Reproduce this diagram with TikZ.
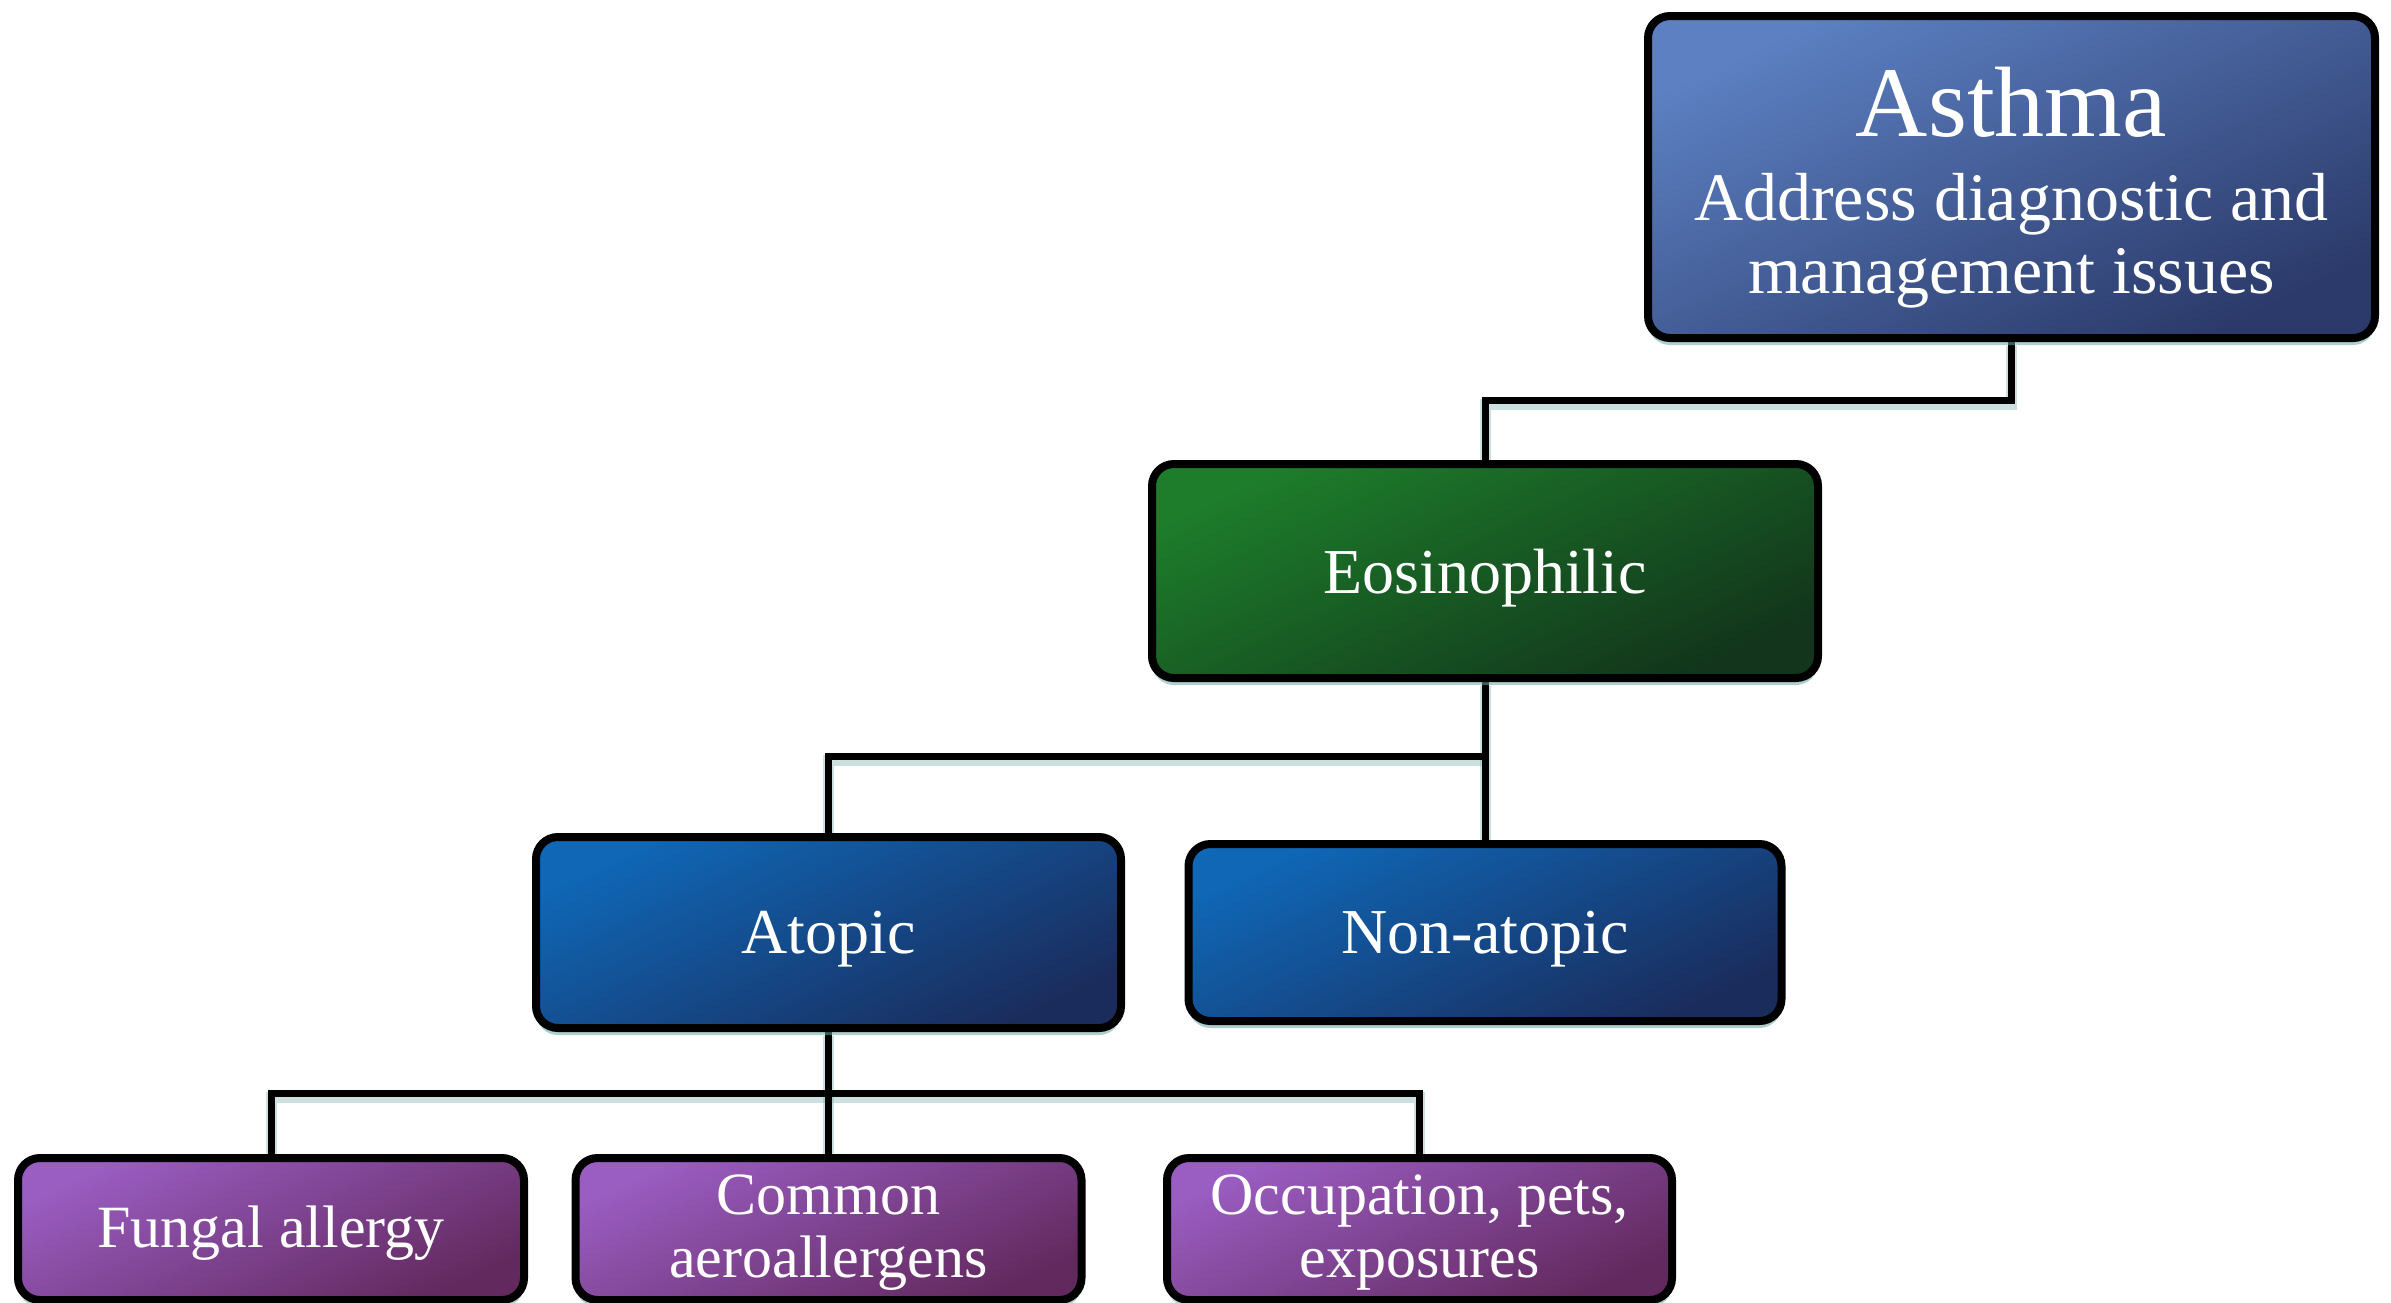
\documentclass[tikz,border=0pt]{standalone}
\usepackage{fontspec}
\setmainfont{Liberation Serif}
\usetikzlibrary{shadows,calc}
\pgfdeclarelayer{bg}
\pgfsetlayers{bg,main}
\definecolor{asthmaA}{HTML}{5C80C2}
\definecolor{asthmaB}{HTML}{2B3A6A}
\definecolor{eosA}{HTML}{1D7D2B}
\definecolor{eosB}{HTML}{12351B}
\definecolor{atA}{HTML}{0F67B6}
\definecolor{atB}{HTML}{1A2C5C}
\definecolor{purA}{HTML}{9A5DC2}
\definecolor{purB}{HTML}{62295E}
\definecolor{shadowteal}{HTML}{6FA8A8}
\newcommand{\dn}[2]{\raisebox{-#1}[\height][\depth]{#2}}
\begin{document}
\begin{tikzpicture}[x=1pt,y=1pt,
  box/.style={draw=black, line width=8pt, rounded corners=22pt, text=white, align=center, inner sep=0pt,
    drop shadow={shadow xshift=0pt, shadow yshift=-7pt, fill=shadowteal, opacity=0.55}},
  asthmabox/.style={box, top color=asthmaA, bottom color=asthmaB, shading angle=25},
  eosbox/.style={box, top color=eosA, bottom color=eosB, shading angle=25},
  atbox/.style={box, top color=atA, bottom color=atB, shading angle=25},
  purbox/.style={box, top color=purA, bottom color=purB, shading angle=25},
  midfont/.style={font=\fontsize{64}{70}\selectfont},
  lowfont/.style={font=\fontsize{60}{63}\selectfont},
  conn/.style={line width=7pt, draw=black},
  connsh/.style={line width=11pt, draw=shadowteal, opacity=0.35, transform canvas={yshift=-4pt}}
]
\useasboundingbox (0,0) rectangle (2391,-1302);
\begin{pgfonlayer}{bg}
\fill[white] (0,0) rectangle (2391,-1302);
\end{pgfonlayer}

\node[asthmabox, minimum width=727pt, minimum height=322pt, font=\fontsize{68}{73}\selectfont] (asthma) at (2011.5,-177)
  {\dn{11pt}{\fontsize{100}{100}\selectfont Asthma}\\[11pt]\dn{11pt}{Address diagnostic and}\\\dn{11pt}{management issues}};
\node[eosbox, midfont, minimum width=666pt, minimum height=214pt] (eos) at (1485,-571) {\dn{7pt}{Eosinophilic}};
\node[atbox, midfont, minimum width=585pt, minimum height=191pt] (atopic) at (828.5,-932.5) {\dn{7pt}{Atopic}};
\node[atbox, midfont, minimum width=593pt, minimum height=177pt] (non) at (1485,-932.5) {\dn{7pt}{Non-atopic}};
\node[purbox, lowfont, minimum width=506pt, minimum height=142pt] (fungal) at (271,-1229) {\dn{4pt}{Fungal allergy}};
\node[purbox, lowfont, minimum width=506pt, minimum height=142pt] (common) at (828.5,-1229) {\dn{4pt}{Common}\\\dn{4pt}{aeroallergens}};
\node[purbox, lowfont, minimum width=505pt, minimum height=142pt] (occ) at (1419.5,-1229) {\dn{4pt}{Occupation, pets,}\\\dn{4pt}{exposures}};

\coordinate (m1) at ($(asthma.south)+(0,-58)$);
\coordinate (m2) at ($(eos.south)!0.47!(non.north)$);
\coordinate (m3) at ($(atopic.south)!0.5!(common.north)$);

\begin{pgfonlayer}{bg}
\foreach \s in {connsh,conn}{
  \draw[\s] (asthma.south) -- (m1) -| (eos.north);
  \draw[\s] (eos.south) -- (non.north);
  \draw[\s] (atopic.north) |- (m2);
  \draw[\s] (atopic.south) -- (common.north);
  \draw[\s] (fungal.north) |- (m3) -| (occ.north);
}
\end{pgfonlayer}
\end{tikzpicture}
\end{document}
